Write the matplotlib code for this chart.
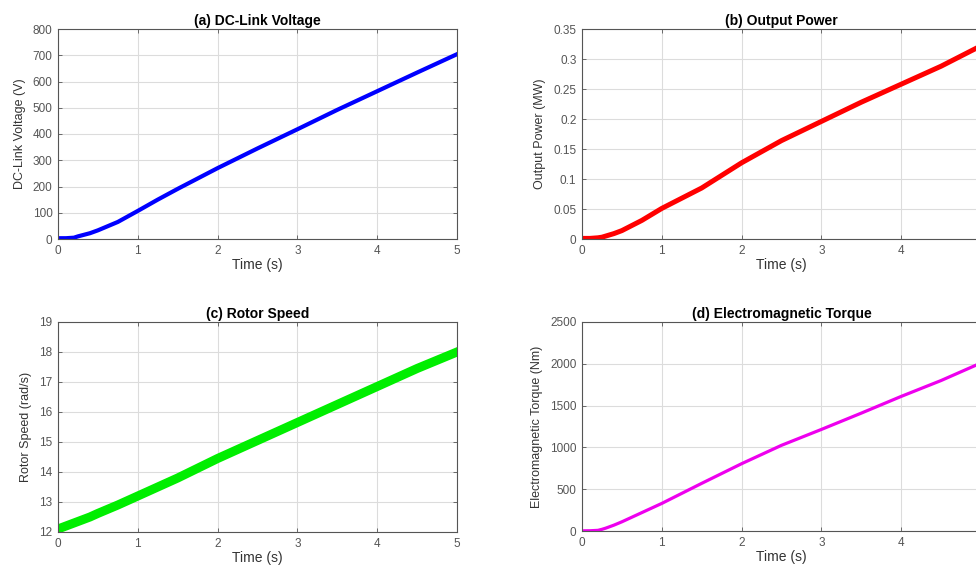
import numpy as np
import matplotlib
matplotlib.use('Agg')
import matplotlib.pyplot as plt

plt.rcParams['font.family'] = ['Liberation Sans', 'DejaVu Sans']

# values (time in s)
t = [0, 0.1, 0.2, 0.25, 0.3, 0.4, 0.5, 0.75, 1.0, 1.25, 1.5, 2.0, 2.5, 3.0, 3.5, 4.0, 4.5, 5.0]
voltage = [3, 3, 5, 10, 14, 22, 33, 65, 107, 150, 191, 270, 345, 418, 492, 563, 634, 704]
power = [0.001, 0.001, 0.002, 0.003, 0.005, 0.009, 0.014, 0.031, 0.051, 0.068, 0.085, 0.127, 0.164, 0.196, 0.228, 0.258, 0.288, 0.322]
speed = [12.1, 12.2, 12.3, 12.35, 12.4, 12.5, 12.62, 12.9, 13.2, 13.5, 13.8, 14.45, 15.05, 15.65, 16.25, 16.85, 17.45, 18.0]
torque = [2, 3, 8, 20, 35, 70, 110, 220, 330, 450, 570, 805, 1025, 1215, 1410, 1610, 1800, 2010]
xticklabels = ['0', '1', '2', '3', '4', '5']

panels = [
    ('(a) DC-Link Voltage', 'DC-Link Voltage (V)', voltage, '#0000ff', 3.0, (0, 800), np.arange(0, 801, 100), None),
    ('(b) Output Power', 'Output Power (MW)', power, '#ff0000', 3.6, (0, 0.35), np.arange(0, 0.351, 0.05), ['0', '0.05', '0.1', '0.15', '0.2', '0.25', '0.3', '0.35']),
    ('(c) Rotor Speed', 'Rotor Speed (rad/s)', speed, '#00ee00', 6.5, (12, 19), np.arange(12, 20, 1), None),
    ('(d) Electromagnetic Torque', 'Electromagnetic Torque (Nm)', torque, '#ee00ee', 2.3, (0, 2500), np.arange(0, 2501, 500), None),
]

W, H = 976, 565
boxes = [(58, 29, 239), (582, 29, 239), (58, 322, 532), (582, 322, 531)]

fig = plt.figure(figsize=(W / 100, H / 100), dpi=100)
for i, ((title, ylab, y, col, lw, ylim, yt, ytl), (x0, ytop, ybot)) in enumerate(zip(panels, boxes)):
    ax = fig.add_axes([x0 / W, (H - ybot) / H, 399 / W, (ybot - ytop) / H])
    ax.plot(t, y, color=col, lw=lw, solid_joinstyle='round')
    ax.set_xlim(0, 5)
    ax.set_ylim(*ylim)
    ax.set_xticks(range(6))
    # right column runs past the picture edge, its last label is cut away
    ax.set_xticklabels(xticklabels if i % 2 == 0 else xticklabels[:-1] + [''])
    ax.set_yticks(yt)
    if ytl:
        ax.set_yticklabels(ytl)
    ax.grid(True, color='#dcdcdc', lw=0.8)
    ax.set_axisbelow(True)
    ax.tick_params(direction='in', top=True, right=True, labelsize=8.5,
                   colors='#555555', length=3, width=0.6, pad=4)
    for s in ax.spines.values():
        s.set_color('#555555')
        s.set_linewidth(0.8)
    ax.set_title(title, fontsize=10, fontweight='bold', pad=3)
    ax.set_xlabel('Time (s)', fontsize=10, color='#333333', labelpad=1)
    ax.set_ylabel(ylab, fontsize=9, color='#333333', labelpad=5)

fig.savefig('out.png', dpi=100)
